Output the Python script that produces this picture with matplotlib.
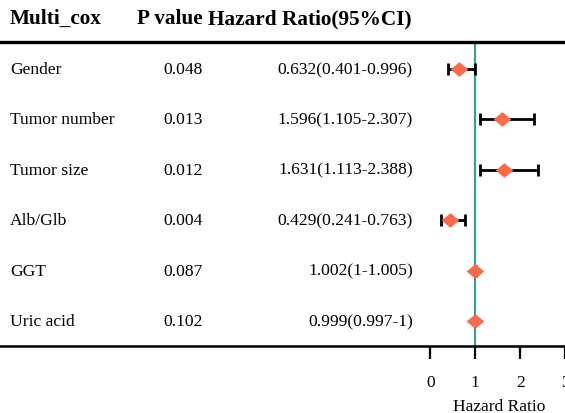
import matplotlib
matplotlib.use("Agg")
import matplotlib.pyplot as plt
from matplotlib.transforms import blended_transform_factory

# Multivariate Cox regression results
variables = ["Gender", "Tumor number", "Tumor size", "Alb/Glb", "GGT", "Uric acid"]
p_values = ["0.048", "0.013", "0.012", "0.004", "0.087", "0.102"]
hr = [0.632, 1.596, 1.631, 0.429, 1.002, 0.999]
ci_low = [0.401, 1.105, 1.113, 0.241, 1.0, 0.997]
ci_high = [0.996, 2.307, 2.388, 0.763, 1.005, 1.0]
hr_labels = ["0.632(0.401-0.996)", "1.596(1.105-2.307)", "1.631(1.113-2.388)",
             "0.429(0.241-0.763)", "1.002(1-1.005)", "0.999(0.997-1)"]
x_ticks = [0, 1, 2, 3]

W, H = 565, 414
plt.rcParams["font.family"] = ["Liberation Serif", "DejaVu Serif"]

fig = plt.figure(figsize=(W / 100, H / 100), dpi=100)
ax_top, ax_bot = 43, 347
ax = fig.add_axes([0, 1 - ax_bot / H, 1, (ax_bot - ax_top) / H])

# x scale: 0 sits at 432 px, one unit is 45 px
x0_px, unit_px = 432, 45
xmin, xmax = -x0_px / unit_px, (W - x0_px) / unit_px
ax.set_xlim(xmin, xmax)
row_px = 50.4
ax.set_ylim(5 + (ax_bot - ax_top - 279) / row_px, -27 / row_px)

rows = list(range(len(variables)))
ax.axvline(1, color="#3d9a94", lw=1.6, zorder=1)

err_lo = [h - l for h, l in zip(hr, ci_low)]
err_hi = [u - h for h, u in zip(hr, ci_high)]
ax.errorbar(hr, rows, xerr=[err_lo, err_hi], fmt="none", ecolor="black",
            elinewidth=2.0, capsize=4.6, capthick=2.0, zorder=2)

# slightly flattened diamond
diamond = [(-1, 0), (0, 0.82), (1, 0), (0, -0.82), (-1, 0)]
ax.plot(hr, rows, linestyle="none", marker=diamond, markersize=12.8,
        color="#f96a4b", markeredgewidth=0, zorder=3)

for s in ["left", "right"]:
    ax.spines[s].set_visible(False)
ax.spines["top"].set_linewidth(2.4)
ax.spines["bottom"].set_linewidth(1.8)
ax.set_yticks([])
ax.set_xticks(x_ticks)
ax.set_xticklabels([str(t) for t in x_ticks], fontsize=12.5)
ax.tick_params(axis="x", length=9, width=1.6, pad=11.5)
ax.set_xlabel("Hazard Ratio", fontsize=12.5)
ax.xaxis.set_label_coords((1.5 - xmin) / (xmax - xmin), -0.17)

tr = blended_transform_factory(ax.transAxes, ax.transData)
header_y = -27 / row_px - 24 / row_px
hdr = dict(fontsize=15.3, fontweight="bold", va="center", transform=tr, clip_on=False)
ax.text(10 / W, header_y, "Multi_cox", ha="left", **hdr)
ax.text(203 / W, header_y, "P value", ha="right", **hdr)
ax.text(411 / W, header_y, "Hazard Ratio(95%CI)", ha="right", **hdr)

body = dict(fontsize=12.6, va="center", transform=tr)
for r, name, p, lab in zip(rows, variables, p_values, hr_labels):
    ax.text(10 / W, r, name, ha="left", **body)
    ax.text(203 / W, r, p, ha="right", **body)
    ax.text(413 / W, r, lab, ha="right", **body)

fig.savefig("out.png", dpi=100)
